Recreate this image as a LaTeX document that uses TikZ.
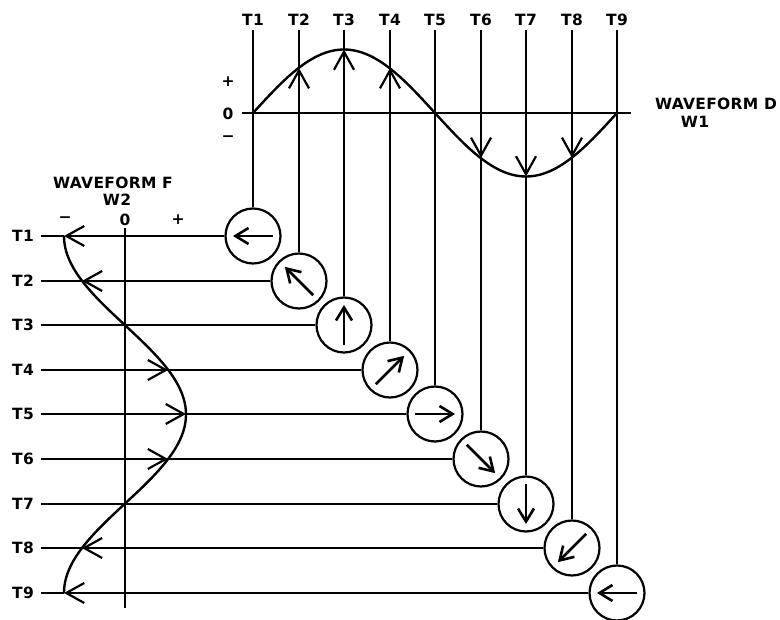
\documentclass[tikz,border=0pt]{standalone}
\usepackage{fontspec}
\setmainfont{DejaVu Sans}
\newfontfamily\lblfont{DejaVu Sans}[LetterSpace=2]
\usetikzlibrary{arrows.meta,calc}
\begin{document}
\begin{tikzpicture}[x=1pt,y=-1pt,
  lbl/.style={font=\lblfont\bfseries\fontsize{15.5}{16}\selectfont, inner sep=0pt},
  phasor/.style={circle, draw, line width=2.2pt, minimum size=55pt, inner sep=0pt},
  gridline/.style={line width=2pt},
  wave/.style={line width=2.4pt},
  barb/.style={-{Straight Barb[length=18pt,width=20pt,line width=2.2pt]}},
  vecarrow/.style={line width=2.6pt,-{Straight Barb[length=13pt,width=16pt,line width=2.6pt]}}
]
\useasboundingbox (0,0) rectangle (780,620);

% nodes and coordinates
\foreach \i in {1,...,9}{
  \pgfmathsetmacro\xx{round(253+45.5*(\i-1))}
  \pgfmathsetmacro\yy{round(236+44.6*(\i-1))}
  \pgfmathsetmacro\ang{45*(\i-1)}
  \pgfmathsetmacro\dx{-20*cos(\ang)}
  \pgfmathsetmacro\dy{-20*sin(\ang)}
  \node[phasor] (c\i) at (\xx,\yy) {};
  \coordinate (p\i) at (\xx,{113-63.5*sin(\ang)});
  \coordinate (q\i) at ({125-61*cos(\ang)},\yy);
  \coordinate (a\i) at (\xx,30);
  \coordinate (b\i) at (41,\yy);
  \coordinate (s\i) at ($(c\i.center)-(\dx,\dy)$);
  \coordinate (e\i) at ($(c\i.center)+(\dx,\dy)$);
  \node[lbl] (tt\i) at (\xx,20) {T\i};
  \node[lbl] (lt\i) at (23,\yy) {T\i};
  \draw[vecarrow] (s\i) -- (e\i);
}

% axes
\coordinate (z0) at (242,113);
\coordinate (z1) at (631,113);
\draw[gridline] (z0) -- (z1);
\coordinate (v0) at (125,228);
\coordinate (v1) at (125,608);
\draw[gridline] (v0) -- (v1);

% waveforms
\draw[wave] plot[domain=0:360,samples=120,smooth] ({253+1.011111*\x},{113-63.5*sin(\x)});
\draw[wave] plot[domain=0:360,samples=120,smooth] ({125-61*cos(\x)},{236+0.991111*\x});

% top vertical connectors
\foreach \i in {1,5,9}{\draw[gridline] (a\i) -- (c\i);}
\foreach \i in {2,3,4}{
  \draw[gridline,barb] (c\i) -- (p\i);
  \draw[gridline] (p\i) -- (a\i);
}
\foreach \i in {6,7,8}{
  \draw[gridline,barb] (a\i) -- (p\i);
  \draw[gridline] (p\i) -- (c\i);
}

% left horizontal connectors
\foreach \i in {3,7}{\draw[gridline] (b\i) -- (c\i);}
\foreach \i in {1,2,8,9}{
  \draw[gridline,barb] (c\i) -- (q\i);
  \draw[gridline] (q\i) -- (b\i);
}
\foreach \i in {4,5,6}{
  \draw[gridline,barb] (b\i) -- (q\i);
  \draw[gridline] (q\i) -- (c\i);
}

% labels
\node[lbl] (plusD) at (228,82) {+};
\node[lbl] (zeroD) at (228,114) {0};
\node[lbl] (minusD) at (228,139) {−};
\node[lbl] (wfD) at (716,104) {WAVEFORM D};
\node[lbl] (w1) at (695,122) {W1};

\node[lbl] (wfF) at (113,183) {WAVEFORM F};
\node[lbl] (w2) at (117,200) {W2};
\node[lbl] (minusF) at (65,220) {−};
\node[lbl] (zeroF) at (125,220) {0};
\node[lbl] (plusF) at (178,220) {+};
\end{tikzpicture}
\end{document}
